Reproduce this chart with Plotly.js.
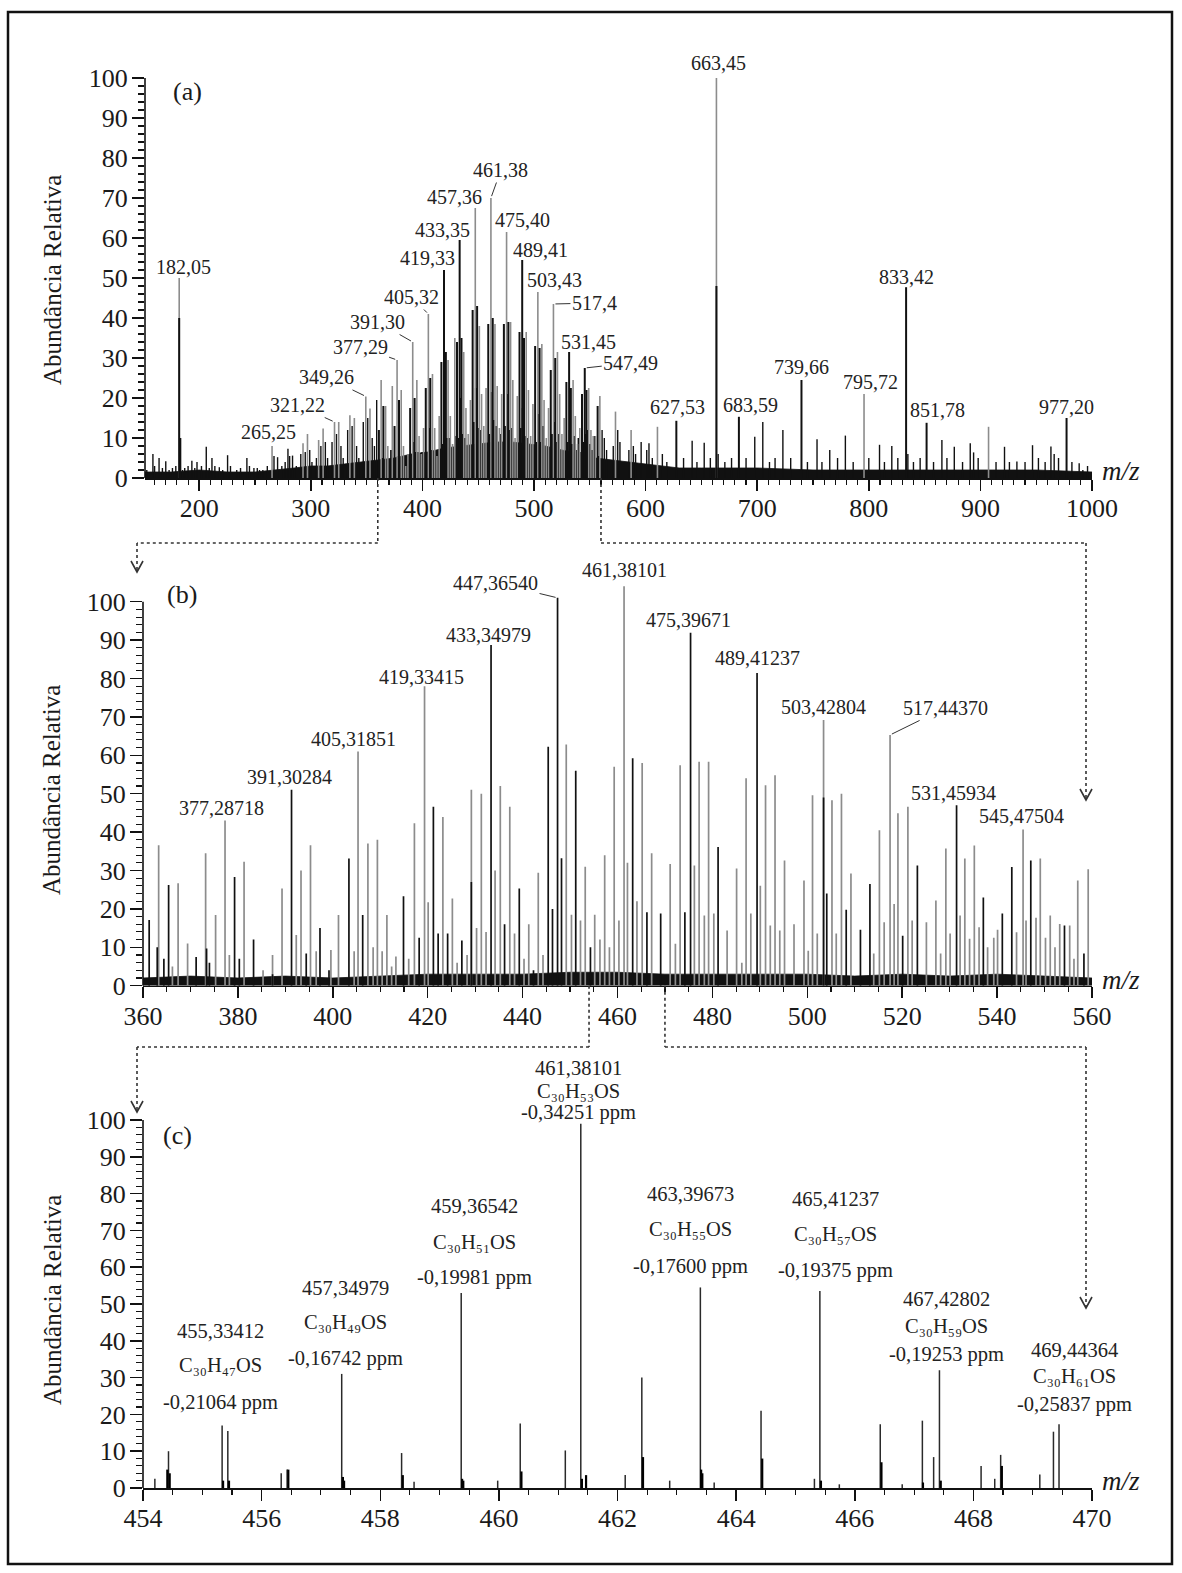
<!DOCTYPE html>
<html><head><meta charset="utf-8">
<script src="https://cdn.plot.ly/plotly-3.0.1.min.js"></script>
<style>html,body{margin:0;padding:0;background:#fff;}#chart{width:1182px;height:1573px;}</style>
</head><body><div id="chart"></div>
<script>
// ================= DATA =================
// ---- Panel (a): full spectrum, m/z 150-1000 ----
const rangeA = [151.4, 1000];
const grayA_mz = [182.05, 265.25, 293, 297, 307, 311, 321.22, 325, 335, 339,
  349.26, 353, 363, 367, 369, 373, 377.29, 381, 383, 385,
  387, 391.30, 395, 397, 399, 401, 405.32, 409, 411, 413,
  415, 423, 425, 427, 429, 437, 439, 441, 443, 447.36,
  451, 453, 455, 457, 461.38, 465, 467, 469, 471, 475.40,
  479, 481, 483, 485, 493, 495, 497, 499, 503.43, 507,
  509, 511, 513, 517.40, 521, 523, 525, 527, 535, 537,
  539, 541, 549, 551, 553, 555, 559, 573, 587, 610.6,
  663.45, 795.72, 907.3];
const grayA_h = [50, 8, 8.7, 11, 9.5, 12.4, 14, 14, 15.7, 15,
  20.4, 17.4, 24.5, 18, 8, 23, 29.5, 22, 8, 3,
  6, 34, 24.5, 10.5, 6, 12.5, 41, 26, 12.5, 5.5,
  15.5, 29.5, 15.5, 8.5, 35, 31.5, 17.5, 11, 19.5, 67.5,
  38, 21, 13, 22.5, 70, 38.5, 23, 12.5, 21, 61.5,
  39, 24.5, 10, 20.5, 36.5, 22, 10.5, 18.5, 46.5, 33.5,
  19.5, 10, 17.5, 43.5, 31.5, 21, 11, 15, 24.5, 15.5,
  8.5, 12.5, 22.5, 12, 10.5, 10.5, 20.5, 16.6, 12, 12.8,
  100, 21, 12.8];
const blackA_mz = [182.05, 183.05, 361, 365, 375, 379, 389, 393, 403, 407,
  417, 419.33, 421, 431, 433.35, 435, 445, 449, 459, 463,
  473, 477, 487, 489.41, 491, 501, 505, 515, 519, 529,
  531.45, 533, 543, 545.47, 547, 557, 663.45, 627.53, 683.59, 739.66,
  833.42, 851.78, 977.20];
const blackA_h = [40, 10, 12, 18, 13, 19.5, 17.5, 20, 22.5, 25,
  29, 52, 31.5, 34, 59.5, 35, 42, 43, 38.5, 40,
  38.5, 39, 36.5, 54.5, 35, 33, 32.5, 27, 30, 24,
  31.5, 22.5, 21, 27.5, 22, 18, 48, 14.3, 15.3, 24.5,
  47.7, 13.8, 15];
const minorA_mz = [153, 158.5, 160, 164, 167, 170, 173, 176, 179, 185,
  187, 190, 193.4, 196, 198, 202, 206.3, 209, 211.4, 214,
  218, 221, 225.4, 228, 233.6, 237, 242.7, 245, 249, 252,
  254, 257, 261, 267, 270.2, 274, 277, 279.5, 281, 283.6,
  287, 291, 295, 299, 301, 305, 309, 313, 315, 319,
  323, 327, 329, 333, 337, 341, 343, 347, 351, 355,
  357, 359, 561, 563, 565, 571, 575, 577, 585, 589,
  591, 596, 601, 603, 606, 615, 619, 634, 641.7, 646,
  652.5, 658, 665, 671, 677, 690, 697.8, 705, 711, 716,
  723, 730, 745, 753.6, 758, 765, 772, 779, 786, 800,
  809.6, 814, 820.6, 826, 835, 840, 846, 858, 865.5, 870,
  876.6, 884, 890.9, 893.9, 898, 914, 921.6, 926, 932.7, 940,
  946.7, 952, 958, 963.2, 966.1, 970, 982, 988.5, 991.8, 996];
const minorA_h = [2, 6, 3, 5, 2.5, 4.2, 2, 2.5, 3, 2,
  2.5, 3, 4.3, 2.5, 4, 3, 7.8, 2.5, 5, 3,
  2.7, 2, 5.7, 3, 2, 2.5, 5, 3, 2.5, 2.5,
  2, 2, 3, 5.5, 5.2, 3, 4, 7.3, 5.5, 5.6,
  3, 6, 6.5, 7, 4, 5, 8, 9, 5, 9,
  11, 8, 5, 12, 13, 8, 5, 14, 15, 10,
  8, 19.5, 12, 10, 7, 8, 12, 9, 7, 8,
  6, 9, 7, 8.7, 5, 6, 4, 5, 9.3, 4,
  8.8, 5, 6, 4, 5, 5, 10.3, 14, 4, 5,
  12, 5, 4, 9.7, 4, 7, 5, 10.6, 4, 5,
  8.3, 4, 8, 5, 6, 4, 5, 4, 9.5, 5,
  7.8, 4, 8.7, 6.4, 5, 4, 7.8, 4, 4.1, 4,
  8.2, 5, 4, 7.9, 6, 5, 4, 3.7, 2, 3];
const isoA_mz = [362, 364, 366, 368, 370, 372, 374, 376, 378, 380,
  382, 384, 386, 388, 390, 392, 394, 396, 398, 400,
  402, 404, 406, 408, 410, 412, 414, 416, 418, 420,
  422, 424, 426, 428, 430, 432, 434, 436, 438, 440,
  442, 444, 446, 448, 450, 452, 454, 456, 458, 460,
  462, 464, 466, 468, 470, 472, 474, 476, 478, 480,
  482, 484, 486, 488, 490, 492, 494, 496, 498, 500,
  502, 504, 506, 508, 510, 512, 514, 516, 518, 520,
  522, 524, 526, 528, 530, 532, 534, 536, 538, 540,
  542, 544, 546, 548, 550, 552, 554, 556, 558];
const isoA_h = [3.5, 5, 3.5, 3.5, 3, 7, 4, 3.5, 5.5, 5,
  5, 2, 3, 3, 5.5, 9, 6.5, 6.5, 3.5, 6.5,
  3, 6.5, 12.5, 7, 6.5, 3.5, 6.5, 5, 8.5, 14.5,
  10, 10, 4, 5.5, 10.5, 10, 20, 11, 10, 5,
  4, 5.5, 14, 22.5, 12.5, 12, 7, 8.5, 7, 11,
  21.5, 14.5, 13, 7, 11, 7, 13, 21, 12, 12.5,
  8.5, 4, 4, 12.5, 17.5, 10.5, 10, 7, 5.5, 6,
  9, 16, 9, 13, 7, 4, 5.5, 11, 14, 9,
  11, 7, 4, 5.5, 9, 12, 8.5, 10.5, 7, 10,
  6.5, 9, 11, 12, 8.5, 7, 10.5, 5, 5.5];
// top of the unresolved solid black band
const envA_mz = [151, 175, 200, 225, 250, 270, 285, 300, 315, 330,
  345, 360, 375, 390, 405, 420, 435, 450, 465, 480,
  495, 510, 525, 540, 555, 570, 585, 600, 615, 630,
  650, 675, 700, 750, 800, 850, 900, 950, 1000];
const envA_h = [1.5, 1.5, 2, 1.5, 1.5, 2, 2.5, 3, 3, 3.5,
  4, 4.5, 5, 6, 6.5, 7.5, 8, 8.5, 9, 9,
  8.5, 8, 7, 6, 5, 4.5, 4, 3.5, 3, 2.5,
  2.5, 2.5, 2.5, 2, 2, 2, 2, 2, 1.5];
const labelA_text = ['182,05','265,25','321,22','349,26','377,29','391,30','405,32','419,33','433,35','457,36','461,38','475,40','489,41','503,43','517,4','531,45','547,49','627,53','663,45','683,59','739,66','795,72','833,42','851,78','977,20'];
const labelA_x = [182.05,265.25,321.22,349.26,377.29,391.30,405.32,419.33,433.35,447.36,461.38,475.40,489.41,503.43,517.40,531.45,545.47,627.53,663.45,683.59,739.66,795.72,833.42,851.78,977.20];
const labelA_y = [50,8,14,20.4,29.5,34,41,52,59.5,67.5,70,61.5,54.5,46.5,43.5,31.5,27.5,14.3,100,15.3,24.5,21,47.7,13.8,15];

// ---- Panel (b): zoom m/z 360-560 ----
const rangeB = [360, 560];
const grayB_mz = [363.3, 366.2, 367.4, 369.4, 373.2, 375.3, 377.287, 378.2, 381.3, 385.3,
  387.3, 389.3, 392.3, 393.3, 395.3, 396.5, 399.6, 401.2, 404.5, 405.319,
  407.4, 408.5, 409.4, 410.4, 411.4, 412.4, 413.3, 416.0, 417.2, 419.334,
  420.1, 423.2, 425.2, 426.2, 428.3, 429.2, 430.3, 431.3, 432.3, 434.2,
  435.3, 437.3, 438.3, 440.3, 441.3, 443.3, 444.3, 449.2, 450.3, 452.2,
  453.2, 455.2, 456.3, 457.3, 458.3, 459.3, 460.3, 461.381, 462.1, 464.1,
  465.2, 467.2, 471.1, 472.2, 473.2, 476.2, 477.2, 478.3, 479.2, 480.3,
  483.1, 485.1, 486.2, 487.1, 488.1, 490.1, 491.2, 492.2, 493.2, 494.2,
  495.2, 497.2, 499.3, 500.2, 501.1, 502.1, 503.428, 505.2, 506.1, 507.2,
  509.2, 514.0, 515.2, 516.2, 517.444, 518.3, 519.1, 521.2, 522.1, 525.1,
  527.1, 528.1, 529.2, 530.1, 532.2, 533.2, 534.2, 535.2, 536.2, 538.0,
  539.3, 540.1, 544.1, 545.475, 546.1, 548.2, 549.1, 550.2, 551.2, 552.2,
  553.2, 555.3, 556.2, 557.0, 559.2];
const grayB_h = [36.6, 5, 26.7, 11, 34.5, 18.4, 43, 8, 32.3, 4,
  8, 25.3, 13.2, 30, 36.6, 9, 9.3, 18.4, 9, 61,
  37, 10, 38, 9, 18.4, 5, 7.6, 7, 42.3, 78,
  21.7, 43.9, 22.7, 6, 8, 51, 15, 50, 14, 30,
  52, 46.6, 13.6, 7, 16, 29.4, 8, 62.8, 18.5, 17,
  31, 18.5, 12, 34, 10, 57, 17, 104, 32, 22,
  58, 34.5, 31.7, 10.9, 57.4, 31.3, 58.3, 18.3, 58.3, 18.8,
  14.4, 30.5, 6, 54, 18.8, 26, 52.2, 15.7, 54.8, 14.4,
  32.6, 16, 27.4, 9.1, 49.6, 13.6, 69.2, 48.3, 13.6, 50,
  29.2, 8.4, 40.5, 16.5, 65.3, 21.3, 44.9, 46.6, 17, 16.5,
  22.2, 8.4, 35.7, 13.6, 18.3, 33.1, 12.2, 36.5, 15.2, 10,
  12.5, 14.6, 13.9, 40.7, 17, 17.7, 33.1, 12.5, 18.3, 10,
  16.1, 15.7, 7, 27.4, 30.3];
const blackB_mz = [361.3, 363.0, 364.4, 365.4, 371.2, 373.4, 374.0, 379.3, 380.3, 383.3,
  387.3, 391.303, 394.4, 397.3, 399.2, 403.4, 406.3, 414.9, 418.2, 421.2,
  422.2, 424.2, 427.2, 429.2, 433.350, 436.2, 439.3, 442.3, 445.4, 446.3,
  447.365, 448.2, 451.2, 454.3, 463.2, 466.2, 469.1, 474.2, 475.397, 481.2,
  489.412, 503.428, 504.1, 508.2, 511.2, 513.2, 520.1, 523.2, 531.459, 537.1,
  541.1, 543.1, 547.1, 554.2, 558.3];
const blackB_h = [17.1, 10, 7, 26.2, 7.5, 9.7, 6, 28.3, 7, 12,
  3, 51, 8.4, 15, 4, 33.1, 18.4, 23.3, 12.5, 46.6,
  13.6, 13.6, 11.8, 27, 88.7, 16, 25.3, 4, 62.2, 20,
  101, 33.2, 56, 10, 59.2, 19.1, 18.8, 19.1, 91.9, 36.1,
  81.4, 49, 24, 19.8, 14.6, 26.5, 13, 31.3, 47, 23,
  18.8, 30.9, 32.6, 15.7, 8.4];
const envB_mz = [360, 370, 380, 390, 400, 410, 420, 430, 440, 450, 460, 470, 480, 490, 500, 510, 520, 530, 540, 550, 560];
const envB_h = [2, 2.5, 2, 2.5, 2, 2.5, 3, 3, 3, 3.5, 3.5, 3, 3, 3, 3, 2.5, 3, 2.5, 3, 2.5, 2];
const labelB_text = ['377,28718','391,30284','405,31851','419,33415','433,34979','447,36540','461,38101','475,39671','489,41237','503,42804','517,44370','531,45934','545,47504'];
const labelB_x = [377.287,391.303,405.319,419.334,433.350,447.365,461.381,475.397,489.412,503.428,517.444,531.459,545.475];
const labelB_y = [43,51,61,78,88.7,101,104,91.9,81.4,69.2,65.3,47,40.7];

// ---- Panel (c): zoom m/z 454-470 ----
const rangeC = [454, 470];
const peaksC_mz = [454.20, 454.43, 455.334, 455.43, 456.33, 456.43, 457.350, 458.36, 458.57, 459.365,
  459.98, 460.36, 461.12, 461.381, 462.13, 462.41, 462.88, 463.397, 463.63, 464.42,
  465.32, 465.412, 465.74, 466.43, 466.80, 467.14, 467.33, 467.428, 468.13, 468.36,
  468.46, 469.12, 469.35, 469.444];
const peaksC_h = [2.5, 10, 17, 15.5, 4, 5, 31, 9.5, 1.7, 53,
  2, 17.5, 10.2, 99, 3.5, 30, 2, 54.5, 1.5, 21,
  2.5, 53.5, 1, 17.3, 1, 18.3, 8.4, 32, 6, 2.5,
  9, 3.7, 15.3, 17.3];
const clusterC_mz = [454.41, 454.45, 455.35, 455.45, 456.45, 457.37, 457.39, 458.38, 459.38, 459.40,
  460.38, 461.40, 461.47, 462.43, 463.41, 463.43, 464.44, 465.43, 466.45, 467.15, 467.45, 468.48];
const clusterC_h = [5, 4, 2, 2, 5, 3, 2, 3.5, 2.5, 2,
  4.5, 2.5, 3.5, 8.4, 5, 4, 8, 2, 7, 1.5, 2, 6];
const labelC_mz = [455.33412, 457.34979, 459.36542, 461.38101, 463.39673, 465.41237, 467.42802, 469.44364];
const labelC_h = [17, 31, 53, 99, 54.5, 53.5, 32, 17.3];
const labelC_text = ['455,33412','457,34979','459,36542','461,38101','463,39673','465,41237','467,42802','469,44364'];
const labelC_formula = ['C₃₀H₄₇OS','C₃₀H₄₉OS','C₃₀H₅₁OS','C₃₀H₅₃OS','C₃₀H₅₅OS','C₃₀H₅₇OS','C₃₀H₅₉OS','C₃₀H₆₁OS'];
const labelC_ppm = ['-0,21064 ppm','-0,16742 ppm','-0,19981 ppm','-0,34251 ppm','-0,17600 ppm','-0,19375 ppm','-0,19253 ppm','-0,25837 ppm'];

const yTitle = 'Abundância Relativa';
const panelTags = ['(a)', '(b)', '(c)'];

// ================= LAYOUT / STYLE =================
const W = 1182, H = 1573;
const FONT = 'Liberation Serif, Times New Roman, serif';
const boxA = {x:[145,1092], y:[78,478]};
const boxB = {x:[143,1092], y:[582.5,985.7]};
const boxC = {x:[143,1092], y:[1120,1488]};
const yMaxB = 105;
const offA = [[4,11,0],[-4,-14,1],[-37,-17,1],[-39,-19,1],[-37,-13,1],[-35,-20,1],[-17,-17,1],[-17,12,0],[-17,10,0],[-21,11,0],[10,-28,1],[16,12,0],[18,10,0],[17,12,0],[41,-1,1],[19,10,0],[46,-5,1],[1,14,0],[2,15,0],[12,12,0],[0,13,0],[6,12,0],[0,10,0],[11,13,0],[0,11,0]];
const offB = [[-4,13,0],[-2,13,0],[-5,12,0],[-3,9,0],[-3,10,0],[-62,-15,1],[0,16,0],[-2,13,0],[0,15,0],[0,13,0],[55,-27,1],[-3,12,0],[-2,13,0]];
const offC_x = [-2, 4, 13, -2, -10, 16, 7, 15];
const offC_y = [[94,60,23],[86,52,15],[87,51,15],[56,33,11],[93,58,21],[92,57,21],[71,44,16],[74,48,20]];
const tagPos = [[187,91],[182,595],[177,1135]];
const titleY = [280, 790, 1300];
const mzY = [471, 980, 1481];

const PX = p => p / W;
const PY = p => 1 - p / H;
const dataPx = (box, range, v) => box.x[0] + (v - range[0]) / (range[1] - range[0]) * (box.x[1] - box.x[0]);

function sticks(mz, h, xa, ya, color, width){
  const x = [], y = [];
  for (let i = 0; i < mz.length; i++){ x.push(mz[i], mz[i], null); y.push(0, h[i], null); }
  return {type:'scatter', mode:'lines', x, y, xaxis:xa, yaxis:ya, line:{color, width}, hoverinfo:'skip', connectgaps:false};
}
function envelope(mz, h, xa, ya){
  return {type:'scatter', mode:'lines', x:mz, y:h, xaxis:xa, yaxis:ya, fill:'tozeroy', fillcolor:'#111', line:{width:0.8, color:'#111'}, hoverinfo:'skip'};
}

const traces = [
  envelope(envA_mz, envA_h, 'x', 'y'),
  sticks(minorA_mz, minorA_h, 'x', 'y', '#111', 1.4),
  sticks(isoA_mz, isoA_h, 'x', 'y', '#111', 2.2),
  sticks(grayA_mz, grayA_h, 'x', 'y', '#8c8c8c', 1.6),
  sticks(blackA_mz, blackA_h, 'x', 'y', '#111', 2.0),
  envelope(envB_mz, envB_h, 'x2', 'y2'),
  sticks(grayB_mz, grayB_h, 'x2', 'y2', '#8c8c8c', 1.7),
  sticks(blackB_mz, blackB_h, 'x2', 'y2', '#111', 1.7),
  sticks(peaksC_mz, peaksC_h, 'x3', 'y3', '#2a2a2a', 1.5),
  sticks(clusterC_mz, clusterC_h, 'x3', 'y3', '#000', 2.2)
];

const tickFont = {family:FONT, size:26, color:'#1a1a1a'};
const minorY = [];
for (let v = 2; v < 100; v += 2) if (v % 10) minorY.push(v);
function xAxis(box, range, dtick, minor, anchor){
  return {domain:[PX(box.x[0]), PX(box.x[1])], range, anchor, tickmode:'linear', tick0:0, dtick,
    ticks:'outside', ticklen:11, tickwidth:1.5, tickcolor:'#111', showline:true, linecolor:'#111', linewidth:1.6,
    showgrid:false, zeroline:false, tickfont:tickFont, ticklabelstandoff:-5, fixedrange:true,
    minor:{ticks:'outside', dtick:minor, tick0:0, ticklen:5, tickwidth:1.1, tickcolor:'#111', showgrid:false}};
}
function yAxis(box, anchor, yMax){
  return {domain:[PY(box.y[1]), PY(box.y[0])], range:[0, yMax], anchor, tickmode:'array',
    tickvals:[0,10,20,30,40,50,60,70,80,90,100], ticktext:['0','10','20','30','40','50','60','70','80','90','100'],
    ticks:'outside', ticklen:12, tickwidth:1.5, tickcolor:'#111', showline:false,
    showgrid:false, zeroline:false, tickfont:tickFont, ticklabelstandoff:-1, fixedrange:true,
    minor:{ticks:'outside', tickmode:'array', tickvals:minorY, ticklen:6, tickwidth:1.1, tickcolor:'#111', showgrid:false}};
}

const annFont = s => ({family:FONT, size:s, color:'#222'});
function labelAnn(text, x, y, off, xa, ya){
  const a = {text, x, y, xref:xa, yref:ya, font:annFont(20), xanchor:'center', yanchor:'middle'};
  if (off[2]) return Object.assign(a, {showarrow:true, arrowhead:0, arrowwidth:1, arrowcolor:'#333', ax:off[0], ay:off[1], standoff:2});
  return Object.assign(a, {showarrow:false, xshift:off[0], yshift:off[1]});
}
const annotations = [];
labelA_text.forEach((t,i) => annotations.push(labelAnn(t, labelA_x[i], labelA_y[i], offA[i], 'x', 'y')));
labelB_text.forEach((t,i) => annotations.push(labelAnn(t, labelB_x[i], labelB_y[i], offB[i], 'x2', 'y2')));
labelC_text.forEach((t,i) => {
  [t, labelC_formula[i], labelC_ppm[i]].forEach((line,k) => {
    annotations.push({text:line, x:labelC_mz[i], y:labelC_h[i], xref:'x3', yref:'y3', showarrow:false,
      xanchor:'center', yanchor:'middle', xshift:offC_x[i], yshift:offC_y[i][k], font:annFont(20.5)});
  });
});
[boxA, boxB, boxC].forEach((b,i) => {
  annotations.push({text:yTitle, xref:'paper', yref:'paper', x:PX(52), y:PY(titleY[i]), showarrow:false,
    textangle:-90, font:{family:FONT, size:25, color:'#1a1a1a'}, xanchor:'center', yanchor:'middle'});
  annotations.push({text:'<i>m/z</i>', xref:'paper', yref:'paper', x:PX(1121), y:PY(mzY[i]), showarrow:false,
    font:{family:FONT, size:27, color:'#1a1a1a'}, xanchor:'center', yanchor:'middle'});
  annotations.push({text:panelTags[i], xref:'paper', yref:'paper', x:PX(tagPos[i][0]), y:PY(tagPos[i][1]), showarrow:false,
    font:{family:FONT, size:26, color:'#1a1a1a'}, xanchor:'center', yanchor:'middle'});
});

const dot = {color:'#333', width:1.6, dash:'dot'};
const shapes = [{type:'rect', xref:'paper', yref:'paper', x0:PX(8), x1:PX(1172), y0:PY(1564), y1:PY(12), line:{color:'#111', width:2.5}}];
[['x','y'],['x2','y2'],['x3','y3']].forEach(([xa,ya]) => {
  shapes.push({type:'line', xref:xa + ' domain', yref:ya, x0:0, x1:0, y0:0, y1:100, line:{color:'#111', width:1.6}});
});
function seg(x0,y0,x1,y1){ shapes.push({type:'line', xref:'paper', yref:'paper', x0:PX(x0), y0:PY(y0), x1:PX(x1), y1:PY(y1), line:dot}); }
function chevron(x, tip){
  shapes.push({type:'path', xref:'paper', yref:'paper',
    path:`M ${PX(x-6)},${PY(tip-11)} L ${PX(x)},${PY(tip)} L ${PX(x+6)},${PY(tip-11)}`, line:{color:'#333', width:1.6}});
}
function connector(fromBox, fromRange, lo, hi, yMid, leftX, rightX, leftTip, rightTip){
  const xl = dataPx(fromBox, fromRange, lo), xr = dataPx(fromBox, fromRange, hi), y0 = fromBox.y[1];
  seg(xl, y0, xl, yMid); seg(xl, yMid, leftX, yMid); seg(leftX, yMid, leftX, leftTip - 1); chevron(leftX, leftTip);
  seg(xr, y0, xr, yMid); seg(xr, yMid, rightX, yMid); seg(rightX, yMid, rightX, rightTip - 1); chevron(rightX, rightTip);
}
connector(boxA, rangeA, rangeB[0], rangeB[1], 543, 137, 1086, 572, 800);
connector(boxB, rangeB, rangeC[0], rangeC[1], 1047, 137, 1086, 1112, 1308);

const layout = {
  width:W, height:H, margin:{l:0, r:0, t:0, b:0}, showlegend:false,
  paper_bgcolor:'#fff', plot_bgcolor:'rgba(0,0,0,0)', font:{family:FONT, color:'#1a1a1a'},
  xaxis: xAxis(boxA, rangeA, 100, 10, 'y'),
  yaxis: yAxis(boxA, 'x', 100),
  xaxis2: xAxis(boxB, rangeB, 20, 5, 'y2'),
  yaxis2: yAxis(boxB, 'x2', yMaxB),
  xaxis3: xAxis(boxC, rangeC, 2, 0.5, 'y3'),
  yaxis3: yAxis(boxC, 'x3', 100),
  annotations, shapes
};
Plotly.newPlot('chart', traces, layout, {staticPlot:true, displayModeBar:false});
</script></body></html>
